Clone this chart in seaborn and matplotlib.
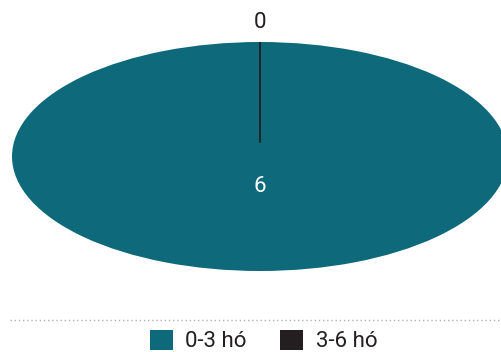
import matplotlib
matplotlib.use('Agg')
import matplotlib.pyplot as plt
import seaborn as sns
from matplotlib.lines import Line2D
from matplotlib.patches import Patch
import numpy as np

# chart data
categories = ['0-3 hó', '3-6 hó']
values = [6, 0]
colors = ['#0e6a7b', '#231f20']

sns.set_style('white')
plt.rcParams['font.family'] = ['Roboto', 'DejaVu Sans']

fig = plt.figure(figsize=(5.02, 3.52), dpi=100)
ax = fig.add_axes([12 / 502, 81 / 352, 496 / 502, 229 / 352])

wedges, _ = ax.pie(values, colors=colors, startangle=90, counterclock=False,
                   radius=1, wedgeprops={'linewidth': 0})
ax.set_aspect('auto')
ax.set_xlim(-1, 1)
ax.set_ylim(-1, 1)
ax.axis('off')

# zero wedge shows up as a thin dark line from near the centre
for w, v, c in zip(wedges, values, colors):
    if v == 0:
        w.set_width(0.88)
        w.set_edgecolor(c)
        w.set_linewidth(1.3)

# value labels, placed along each wedge's middle angle
for w, v in zip(wedges, values):
    mid = np.deg2rad((w.theta1 + w.theta2) / 2)
    if v == 0:
        r, col = 1.17, '#231f20'
    else:
        r, col = 0.26, 'white'
    ax.text(r * np.cos(mid), r * np.sin(mid), str(v), ha='center', va='center',
            fontsize=16, color=col)

# dotted separator above legend
fig.add_artist(Line2D([10 / 502, 1.0], [1 - 320 / 352] * 2, transform=fig.transFigure,
                      color='#b0b0b0', linestyle=(0, (1, 2)), linewidth=1))

handles = [Patch(facecolor=c, edgecolor='none') for c in colors]
fig.legend(handles, categories, loc='center', bbox_to_anchor=(0.525, 1 - 341 / 352),
           ncol=2, frameon=False, fontsize=16, handlelength=1.05, handleheight=1.05,
           handletextpad=0.55, columnspacing=1.5, labelcolor='#231f20')

fig.savefig('out.png', dpi=100)
